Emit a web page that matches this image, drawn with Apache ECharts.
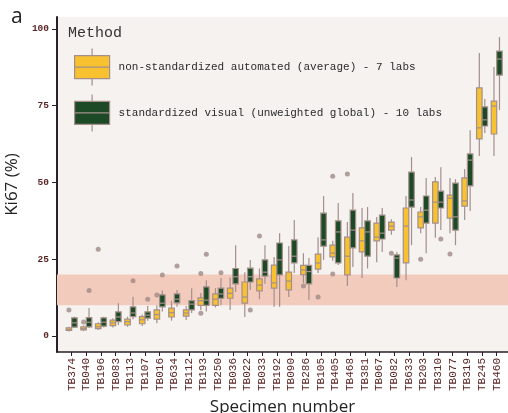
<!DOCTYPE html>
<html>
<head>
<meta charset="utf-8">
<script src="https://cdn.jsdelivr.net/npm/echarts@6/dist/echarts.min.js"></script>
<style>
  html, body { margin: 0; padding: 0; background: #fff; }
  #main { width: 508px; height: 413px; }
</style>
</head>
<body>
<div id="main"></div>
<script>
// specimens, ordered like the figure
var specimens = ['TB374', 'TB040', 'TB196', 'TB083', 'TB113', 'TB107', 'TB016', 'TB634', 'TB112', 'TB193',
  'TB250', 'TB036', 'TB022', 'TB033', 'TB192', 'TB090', 'TB286', 'TB105', 'TB405', 'TB468',
  'TB381', 'TB067', 'TB082', 'TB633', 'TB203', 'TB310', 'TB077', 'TB319', 'TB245', 'TB460']

var yTicks = [0, 25, 50, 75, 100]
var refBand = [10, 20]

// box stats per specimen: [min, q1, median, q3, max]
var autoBoxes = [
  [1.5, 1.8, 2.2, 2.7, 3.0], [1.6, 2.0, 2.4, 3.0, 3.4], [2.0, 2.4, 3.0, 4.0, 4.5], [2.8, 3.4, 4.3, 5.2, 5.8],
  [3.0, 3.6, 4.7, 5.5, 6.3], [3.3, 4.0, 5.3, 6.3, 7.0], [4.2, 5.5, 7.0, 8.5, 10.0], [5.0, 6.2, 7.6, 9.1, 11.5],
  [5.2, 6.5, 7.5, 8.5, 9.8], [8.5, 10.0, 11.5, 12.4, 14.0], [9.3, 10.0, 12.0, 13.7, 15.6], [8.5, 12.3, 13.9, 15.6, 19.0],
  [6.2, 10.7, 12.7, 17.6, 20.8], [12.0, 14.7, 16.6, 18.6, 22.0], [9.5, 15.6, 17.3, 23.1, 25.7], [12.7, 15.0, 17.9, 20.8, 29.3],
  [17.3, 20.0, 21.5, 23.0, 27.0], [20.5, 21.8, 23.8, 26.7, 32.2], [24.5, 25.8, 27.0, 29.6, 31.0], [16.3, 19.9, 26.0, 32.2, 37.1],
  [18.9, 27.4, 31.0, 35.2, 41.7], [24.0, 31.0, 32.2, 36.8, 38.8], [33.0, 34.5, 35.8, 37.1, 38.0], [18.2, 23.8, 35.8, 41.7, 45.6],
  [33.5, 35.2, 38.8, 40.4, 42.0], [32.0, 36.8, 43.6, 50.2, 51.8], [33.5, 38.4, 44.9, 45.9, 51.5], [37.8, 42.3, 44.0, 51.5, 54.4],
  [58.6, 64.2, 67.8, 80.8, 92.2], [58.6, 65.8, 74.9, 76.5, 87.6]
]
var visualBoxes = [
  [2.6, 2.9, 4.3, 5.9, 6.3], [2.6, 3.0, 4.5, 6.0, 9.1], [2.8, 3.2, 4.5, 5.9, 6.3], [3.6, 4.7, 6.2, 7.9, 10.7],
  [5.5, 6.3, 7.5, 9.5, 12.8], [5.0, 5.8, 6.8, 7.9, 9.8], [8.0, 9.5, 10.7, 13.4, 14.8], [9.5, 10.8, 12.0, 13.7, 15.0],
  [7.5, 8.5, 10.4, 11.5, 15.6], [8.0, 10.0, 11.7, 16.0, 18.2], [10.0, 12.3, 13.7, 15.6, 18.9], [14.3, 17.0, 19.3, 22.0, 29.6],
  [15.0, 17.6, 19.3, 22.1, 24.8], [17.0, 19.5, 20.8, 24.8, 29.6], [9.5, 19.9, 24.8, 30.3, 33.5], [20.5, 23.8, 26.0, 31.3, 37.8],
  [11.7, 17.0, 21.0, 23.0, 25.4], [24.8, 29.3, 31.3, 40.0, 45.6], [23.1, 23.8, 33.9, 37.5, 43.3], [22.5, 28.7, 34.5, 41.0, 46.6],
  [22.0, 26.0, 33.9, 37.5, 42.0], [27.4, 31.6, 33.5, 39.4, 41.7], [16.0, 18.9, 25.4, 26.4, 27.4], [29.6, 42.0, 44.3, 53.4, 58.3],
  [27.0, 36.8, 41.0, 45.6, 51.5], [34.5, 41.7, 43.6, 47.2, 55.0], [29.6, 34.5, 38.8, 49.8, 51.1], [40.7, 48.9, 57.3, 59.3, 67.0],
  [66.1, 68.4, 70.4, 74.6, 77.2], [73.6, 85.0, 90.2, 92.8, 97.4]
]

// outliers: [specimen index, value]
var autoOutliers = [[0, 8.5], [1, 4.6], [2, 28.3], [6, 13.4], [9, 7.4], [9, 20.4], [13, 32.6], [16, 16.3],
  [17, 12.7], [18, 52.0], [18, 20.2], [19, 52.8], [22, 27.0], [24, 25.0], [26, 26.7]]
var visualOutliers = [[1, 14.8], [4, 18.0], [5, 12.0], [6, 19.9], [7, 22.8], [9, 26.6], [10, 20.6], [12, 8.5], [25, 31.6]]

var autoName = 'non-standardized automated (average) - 7 labs'
var visualName = 'standardized visual (unweighted global) - 10 labs'

var yellow = '#f7c12f'
var green = '#1c4a26'
var edge = '#a48f8b'
var inkRed = '#5b2525'
var mono = 'Liberation Mono'

var myChart = echarts.init(document.getElementById('main'))

// ggplot style box: dodge width 0.75, two boxes side by side
function boxRenderer(side) {
  return function (params, api) {
    var i = api.value(0)
    var w = api.size([0.375, 0])[0]
    var cx = api.coord([i, 0])[0] + side * w / 2
    var yMin = api.coord([i, api.value(1)])[1]
    var yQ1 = api.coord([i, api.value(2)])[1]
    var yMed = api.coord([i, api.value(3)])[1]
    var yQ3 = api.coord([i, api.value(4)])[1]
    var yMax = api.coord([i, api.value(5)])[1]
    var fill = side < 0 ? yellow : green
    var line = { stroke: edge, lineWidth: 1.2 }
    return {
      type: 'group',
      children: [
        { type: 'line', shape: { x1: cx, y1: yMin, x2: cx, y2: yQ1 }, style: line },
        { type: 'line', shape: { x1: cx, y1: yQ3, x2: cx, y2: yMax }, style: line },
        { type: 'rect', shape: { x: cx - w / 2, y: yQ3, width: w, height: yQ1 - yQ3 },
          style: { fill: fill, stroke: edge, lineWidth: 1.2 } },
        { type: 'line', shape: { x1: cx - w / 2, y1: yMed, x2: cx + w / 2, y2: yMed }, style: line }
      ]
    }
  }
}

function toRows(boxes) {
  return boxes.map(function (b, i) {
    return [i].concat(b)
  })
}

var idxTicks = specimens.map(function (s, i) { return i })

var option = {
  animation: false,
  title: [
    { text: 'a', left: 11, top: 7, padding: 0,
      textStyle: { fontFamily: 'Open Sans', fontSize: 21, fontWeight: 'normal', color: '#222' } },
    { text: 'Method', left: 68, top: 26, padding: 0,
      textStyle: { fontFamily: mono, fontSize: 15, fontWeight: 'normal', color: '#333' } }
  ],
  legend: {
    data: [autoName, visualName],
    orient: 'vertical',
    left: 74,
    top: 48,
    padding: 0,
    itemWidth: 35,
    itemHeight: 37,
    itemGap: 7.6,
    icon: 'path://M17.5,0L17.5,7M0,7L35,7L35,30L0,30ZM0,18.5L35,18.5M17.5,30L17.5,37',
    itemStyle: { borderColor: edge, borderWidth: 1.2 },
    textStyle: { fontFamily: mono, fontSize: 11, color: '#2b2b2b', padding: [0, 0, 0, 4] }
  },
  grid: {
    left: 57, right: 0, top: 17, bottom: 61,
    outerBoundsMode: 'none',
    show: true, backgroundColor: '#f5f2f0', borderWidth: 0
  },
  xAxis: {
    type: 'value',
    min: -1,
    max: 29.77,
    name: 'Specimen number',
    nameLocation: 'middle',
    nameGap: 41,
    nameTextStyle: { fontFamily: 'Open Sans', fontSize: 17, color: '#222' },
    splitLine: { show: false },
    axisLine: { onZero: false, lineStyle: { color: '#2a1e2a', width: 1.5 } },
    axisTick: { customValues: idxTicks, length: 4, lineStyle: { color: '#2a1e2a' } },
    axisLabel: {
      customValues: idxTicks,
      formatter: function (v) { return specimens[v] },
      rotate: 90,
      margin: 6,
      fontFamily: mono,
      fontSize: 11,
      color: inkRed
    }
  },
  yAxis: {
    type: 'value',
    min: -5.2,
    max: 103.9,
    name: 'Ki67 (%)',
    nameLocation: 'middle',
    nameGap: 29,
    nameTextStyle: { fontFamily: 'Open Sans', fontSize: 17, color: '#222' },
    splitLine: { show: false },
    axisLine: { show: true, onZero: false, lineStyle: { color: '#2a1e2a', width: 2 } },
    axisTick: { show: true, customValues: yTicks, length: 5, lineStyle: { color: '#2a1e2a' } },
    axisLabel: {
      customValues: yTicks,
      margin: 8,
      fontFamily: mono,
      fontWeight: 'bold',
      fontSize: 9.5,
      color: inkRed
    }
  },
  series: [
    {
      name: autoName,
      type: 'custom',
      renderItem: boxRenderer(-1),
      itemStyle: { color: yellow },
      encode: { x: 0, y: [1, 2, 3, 4, 5] },
      data: toRows(autoBoxes),
      z: 3,
      markArea: {
        silent: true,
        itemStyle: { color: '#f3cbbd' },
        data: [[{ yAxis: refBand[0] }, { yAxis: refBand[1] }]]
      }
    },
    {
      name: visualName,
      type: 'custom',
      renderItem: boxRenderer(1),
      itemStyle: { color: green },
      encode: { x: 0, y: [1, 2, 3, 4, 5] },
      data: toRows(visualBoxes),
      z: 3
    },
    {
      type: 'scatter',
      data: autoOutliers,
      symbolSize: 5,
      symbolOffset: [-2.75, 0],
      itemStyle: { color: '#9f8985' },
      z: 4
    },
    {
      type: 'scatter',
      data: visualOutliers,
      symbolSize: 5,
      symbolOffset: [2.75, 0],
      itemStyle: { color: '#9f8985' },
      z: 4
    }
  ]
}

myChart.setOption(option)
</script>
</body>
</html>
